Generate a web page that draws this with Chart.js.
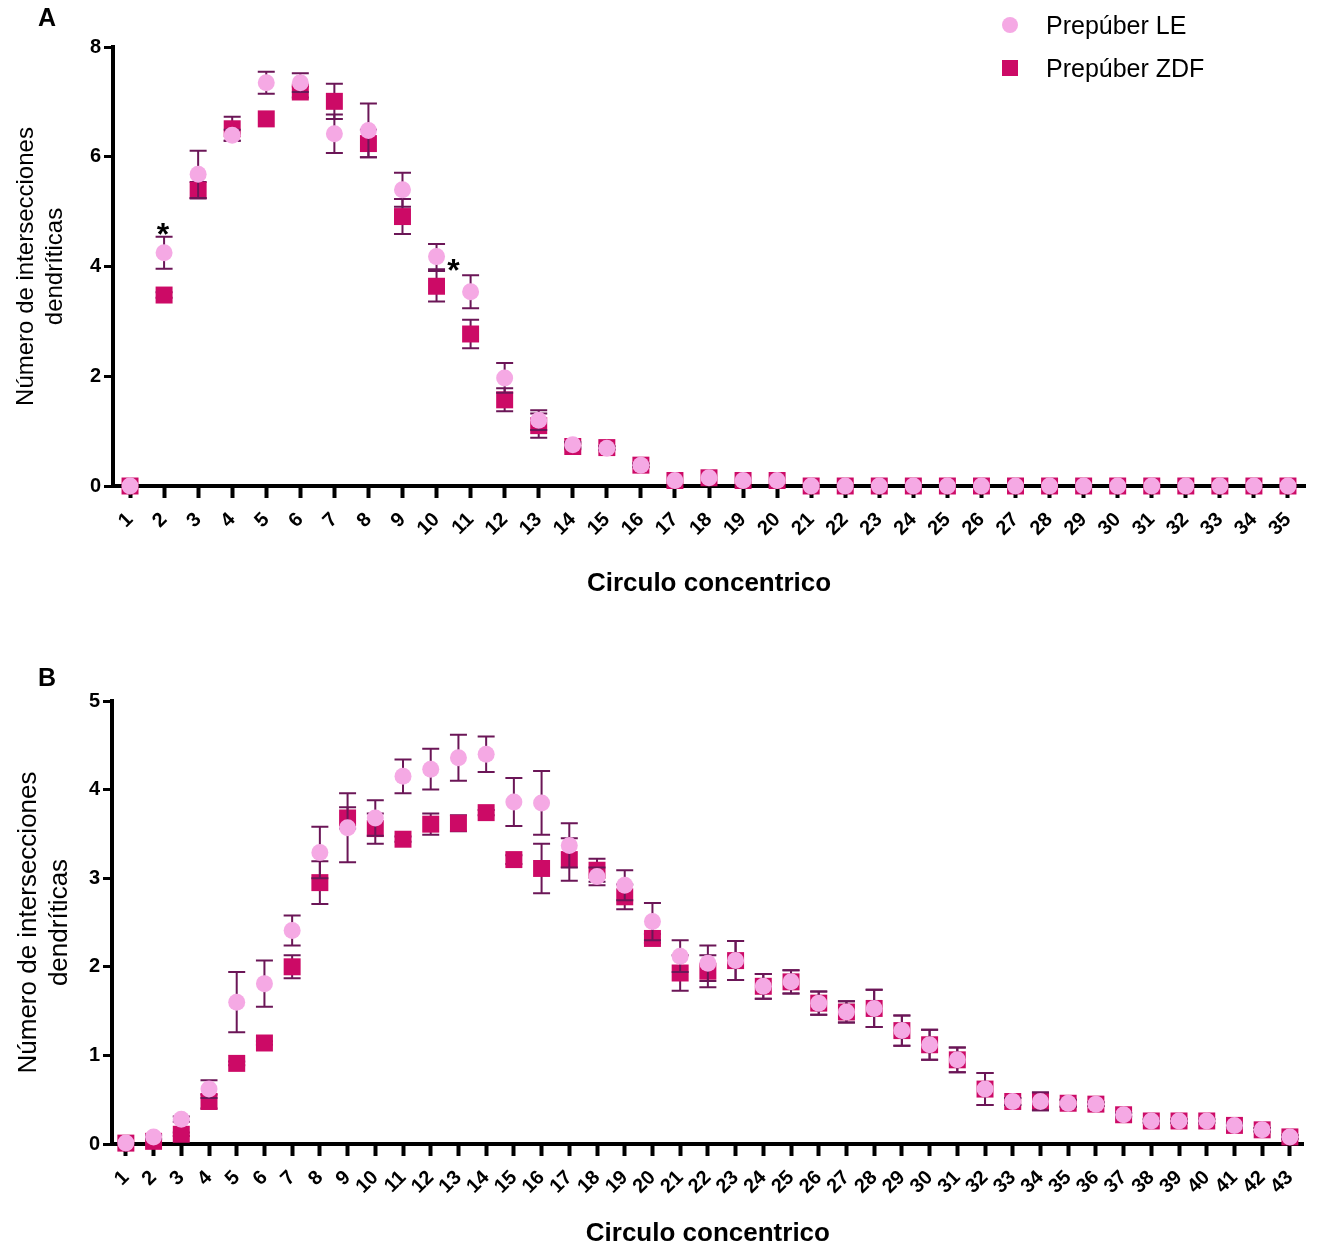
<!DOCTYPE html>
<html lang="es">
<head>
<meta charset="utf-8">
<title>Intersecciones dendríticas</title>
<script src="https://cdn.jsdelivr.net/npm/chart.js@4.4.1/dist/chart.umd.min.js"></script>
<style>
    body { margin: 0; background: #fff; font-family: 'Liberation Sans', Arial, sans-serif; }
    #page { position: relative; width: 1317px; height: 1249px; overflow: hidden; }
    canvas { position: absolute; left: 0; }
    #chartA { top: 0; }
    #chartB { top: 640px; }
    .panel { position: absolute; font-weight: bold; font-size: 25px; line-height: 28px; color: #000; }
    .legend-item { position: absolute; left: 1002px; height: 30px; font-size: 25px; line-height: 30px; color: #000; }
    .legend-item span { position: absolute; left: 0; top: 7px; width: 16px; height: 16px; }
    .legend-item div { position: absolute; left: 44px; top: 0; white-space: nowrap; }
</style>
</head>
<body>
<div id="page">
    <canvas id="chartA" width="1317" height="620"></canvas>
    <canvas id="chartB" width="1317" height="609"></canvas>
    <div class="panel" style="left:38px; top:3px;">A</div>
    <div class="panel" style="left:38px; top:663px;">B</div>
    <div class="legend-item" style="top:10px;"><span style="background:#f5a9e4; border-radius:50%;"></span><div>Prepúber LE</div></div>
    <div class="legend-item" style="top:53px;"><span style="background:#cc0a66;"></span><div>Prepúber ZDF</div></div>
</div>
<script>
// Panel A: Sholl circles 1-35
const circlesA = ['1', '2', '3', '4', '5', '6', '7', '8', '9', '10', '11', '12', '13', '14', '15', '16', '17', '18',
    '19', '20', '21', '22', '23', '24', '25', '26', '27', '28', '29', '30', '31', '32', '33', '34', '35'];
const leMeanA = [0, 4.25, 5.68, 6.39, 7.35, 7.35, 6.42, 6.48, 5.40, 4.18, 3.54, 1.97, 1.20, 0.75, 0.69, 0.38, 0.10, 0.15,
    0.10, 0.10, 0, 0, 0, 0, 0, 0, 0, 0, 0, 0, 0, 0, 0, 0, 0];
const leSemA = [0, 0.29, 0.43, 0.10, 0.20, 0.17, 0.35, 0.49, 0.31, 0.23, 0.30, 0.27, 0.18, 0.05, 0.03, 0.03, 0, 0,
    0, 0, 0, 0, 0, 0, 0, 0, 0, 0, 0, 0, 0, 0, 0, 0, 0];
const zdfMeanA = [0, 3.48, 5.39, 6.51, 6.69, 7.18, 7.01, 6.24, 4.91, 3.64, 2.77, 1.57, 1.10, 0.72, 0.70, 0.38, 0.10, 0.15,
    0.10, 0.10, 0, 0, 0, 0, 0, 0, 0, 0, 0, 0, 0, 0, 0, 0, 0];
const zdfSemA = [0, 0.05, 0.15, 0.22, 0, 0.10, 0.32, 0.25, 0.32, 0.28, 0.26, 0.21, 0.22, 0.05, 0.03, 0.03, 0, 0,
    0, 0, 0, 0, 0, 0, 0, 0, 0, 0, 0, 0, 0, 0, 0, 0, 0];
// circles with a significant LE vs ZDF difference
const starsA = ['2', '10'];

// Panel B: Sholl circles 1-43
const circlesB = ['1', '2', '3', '4', '5', '6', '7', '8', '9', '10', '11', '12', '13', '14', '15', '16', '17', '18',
    '19', '20', '21', '22', '23', '24', '25', '26', '27', '28', '29', '30', '31', '32', '33', '34', '35', '36',
    '37', '38', '39', '40', '41', '42', '43'];
const leMeanB = [0.01, 0.08, 0.28, 0.62, 1.60, 1.81, 2.41, 3.29, 3.57, 3.68, 4.15, 4.23, 4.36, 4.40, 3.86, 3.85, 3.37, 3.02,
    2.92, 2.51, 2.12, 2.04, 2.07, 1.78, 1.83, 1.59, 1.49, 1.53, 1.28, 1.12, 0.95, 0.62, 0.48, 0.48, 0.46, 0.45,
    0.33, 0.26, 0.26, 0.26, 0.21, 0.16, 0.08];
const leSemB = [0, 0.02, 0.03, 0.10, 0.34, 0.26, 0.17, 0.29, 0.39, 0.20, 0.19, 0.23, 0.26, 0.20, 0.27, 0.36, 0.25, 0.10,
    0.17, 0.21, 0.18, 0.20, 0.22, 0.14, 0.13, 0.13, 0.12, 0.21, 0.17, 0.17, 0.14, 0.18, 0.04, 0.10, 0.04, 0.02,
    0.02, 0.02, 0.02, 0.02, 0.02, 0.02, 0.02];
const zdfMeanB = [0.01, 0.03, 0.11, 0.48, 0.91, 1.14, 2.00, 2.95, 3.68, 3.56, 3.44, 3.61, 3.62, 3.74, 3.21, 3.11, 3.21, 3.09,
    2.79, 2.32, 1.93, 1.95, 2.07, 1.78, 1.83, 1.59, 1.49, 1.53, 1.28, 1.12, 0.95, 0.62, 0.48, 0.48, 0.46, 0.45,
    0.33, 0.26, 0.26, 0.26, 0.21, 0.16, 0.08];
const zdfSemB = [0, 0.02, 0.02, 0.08, 0.02, 0.02, 0.13, 0.24, 0.12, 0.17, 0.03, 0.12, 0.09, 0.03, 0.05, 0.28, 0.24, 0.13,
    0.14, 0.05, 0.20, 0.18, 0.22, 0.14, 0.13, 0.13, 0.12, 0.21, 0.17, 0.17, 0.14, 0.18, 0.04, 0.10, 0.04, 0.02,
    0.02, 0.02, 0.02, 0.02, 0.02, 0.02, 0.02];

const LE_COLOR = '#f5a9e4';
const ZDF_COLOR = '#cc0a66';
const BAR_COLOR = '#6b1657';

Chart.defaults.font.family = "'Liberation Sans', Arial, sans-serif";
Chart.defaults.color = '#000';

// mean +/- SEM whiskers, drawn just before each dataset's own markers
const errorBars = {
    id: 'errorBars',
    beforeDatasetDraw(chart, args, opts) {
        const ds = chart.data.datasets[args.index];
        if (!ds.sem) return;
        const yScale = chart.scales.y;
        const ctx = chart.ctx;
        const half = opts.capWidth / 2;
        ctx.save();
        ctx.strokeStyle = opts.color;
        ctx.lineWidth = opts.lineWidth;
        args.meta.data.forEach((pt, i) => {
            const e = ds.sem[i];
            if (!e) return;
            const top = yScale.getPixelForValue(ds.data[i] + e);
            const bot = yScale.getPixelForValue(Math.max(0, ds.data[i] - e));
            ctx.beginPath();
            ctx.moveTo(pt.x, top);
            ctx.lineTo(pt.x, bot);
            ctx.moveTo(pt.x - half, top);
            ctx.lineTo(pt.x + half, top);
            ctx.moveTo(pt.x - half, bot);
            ctx.lineTo(pt.x + half, bot);
            ctx.stroke();
        });
        ctx.restore();
    }
};

// significance asterisks next to the LE points
const stars = {
    id: 'stars',
    afterDatasetsDraw(chart, args, opts) {
        if (!opts.items || !opts.items.length) return;
        const ds = chart.data.datasets.find(d => d.label === 'Prepúber LE');
        const xScale = chart.scales.x;
        const yScale = chart.scales.y;
        const ctx = chart.ctx;
        ctx.save();
        ctx.fillStyle = '#000';
        ctx.font = "bold 32px 'Liberation Sans', Arial, sans-serif";
        ctx.textAlign = 'center';
        ctx.textBaseline = 'alphabetic';
        opts.items.forEach(item => {
            const i = chart.data.labels.indexOf(item.circle);
            const x = xScale.getPixelForValue(i);
            if (item.place === 'above') {
                const capTop = yScale.getPixelForValue(ds.data[i] + ds.sem[i]);
                ctx.fillText('*', x - 1, capTop + 8);
            } else {
                const mid = yScale.getPixelForValue(ds.data[i]);
                ctx.fillText('*', x + 17, mid + 24);
            }
        });
        ctx.restore();
    }
};

function buildChart(canvas, setup) {
    return new Chart(canvas.getContext('2d'), {
        type: 'line',
        data: {
            labels: setup.labels,
            datasets: [
                {
                    label: 'Prepúber LE',
                    data: setup.le,
                    sem: setup.leSem,
                    order: 1,
                    showLine: false,
                    clip: false,
                    pointStyle: 'circle',
                    pointRadius: 8.5,
                    pointHoverRadius: 8.5,
                    pointBorderWidth: 0,
                    pointBackgroundColor: LE_COLOR,
                    borderColor: LE_COLOR
                },
                {
                    label: 'Prepúber ZDF',
                    data: setup.zdf,
                    sem: setup.zdfSem,
                    order: 2,
                    showLine: false,
                    clip: false,
                    pointStyle: 'rect',
                    pointRadius: 12,
                    pointHoverRadius: 12,
                    pointBorderWidth: 0,
                    pointBackgroundColor: ZDF_COLOR,
                    borderColor: ZDF_COLOR
                }
            ]
        },
        options: {
            responsive: false,
            animation: false,
            events: [],
            layout: { padding: setup.padding },
            plugins: {
                legend: { display: false },
                tooltip: { enabled: false },
                errorBars: { color: BAR_COLOR, lineWidth: 2, capWidth: 17 },
                stars: { items: setup.stars || [] }
            },
            scales: {
                x: {
                    type: 'category',
                    offset: true,
                    border: { display: true, color: '#000', width: 4 },
                    grid: {
                        display: true,
                        offset: false,
                        drawOnChartArea: false,
                        drawTicks: true,
                        tickLength: 12,
                        tickWidth: 4,
                        tickColor: '#000'
                    },
                    ticks: {
                        autoSkip: false,
                        minRotation: 45,
                        maxRotation: 45,
                        padding: 10,
                        color: '#000',
                        font: { size: 20, weight: 'bold' }
                    },
                    title: {
                        display: true,
                        text: 'Circulo concentrico',
                        color: '#000',
                        font: { size: 26, weight: 'bold' },
                        padding: { top: 0, bottom: setup.xTitlePad }
                    },
                    afterFit(scale) { scale.height = setup.xHeight; }
                },
                y: {
                    min: 0,
                    max: setup.yMax,
                    border: { display: true, color: '#000', width: 4 },
                    grid: {
                        display: true,
                        drawOnChartArea: false,
                        drawTicks: true,
                        tickLength: 9,
                        tickWidth: 3,
                        tickColor: '#000'
                    },
                    ticks: {
                        stepSize: setup.yStep,
                        padding: 3,
                        color: '#000',
                        font: { size: 20, weight: 'bold' }
                    },
                    title: {
                        display: true,
                        text: ['Número de intersecciones', 'dendríticas'],
                        color: '#000',
                        font: { size: setup.yTitleSize, weight: 'normal', lineHeight: 1.2 },
                        padding: { top: setup.yTitlePad, bottom: 0 }
                    },
                    afterFit(scale) { scale.width = setup.yWidth; }
                }
            }
        },
        plugins: [errorBars, stars]
    });
}

buildChart(document.getElementById('chartA'), {
    labels: circlesA,
    le: leMeanA,
    leSem: leSemA,
    zdf: zdfMeanA,
    zdfSem: zdfSemA,
    stars: starsA.map((c, i) => ({ circle: c, place: i === 0 ? 'above' : 'right' })),
    yMax: 8,
    yStep: 2,
    padding: { top: 47, right: 7, bottom: 0, left: 0 },
    xHeight: 134,
    xTitlePad: 21,
    yWidth: 113,
    yTitleSize: 24,
    yTitlePad: 12
});

buildChart(document.getElementById('chartB'), {
    labels: circlesB,
    le: leMeanB,
    leSem: leSemB,
    zdf: zdfMeanB,
    zdfSem: zdfSemB,
    yMax: 5,
    yStep: 1,
    padding: { top: 61, right: 9, bottom: 0, left: 0 },
    xHeight: 105,
    xTitlePad: 0,
    yWidth: 112,
    yTitleSize: 26,
    yTitlePad: 13
});
</script>
</body>
</html>
